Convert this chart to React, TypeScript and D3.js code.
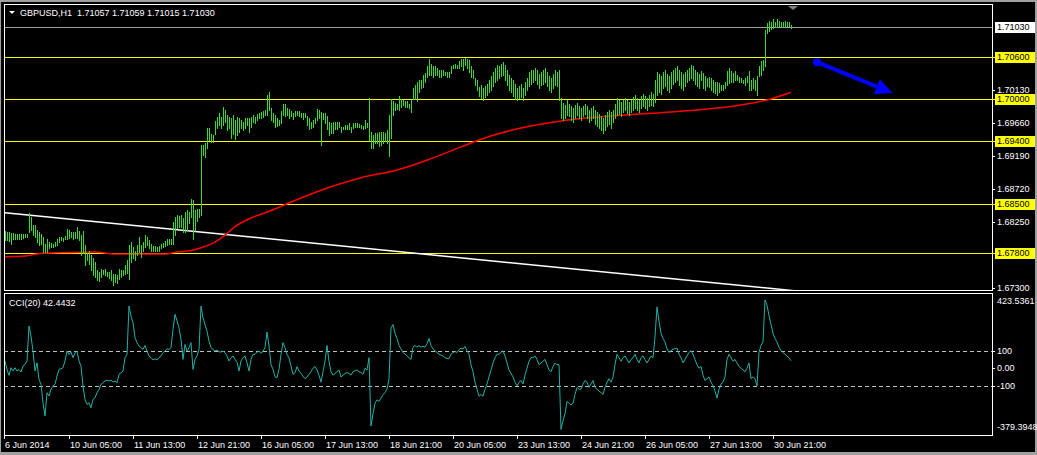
import React from 'react';
import * as d3 from 'd3';

const W = 1037;
const H = 455;

// ---------- data ----------
const barHigh = [
  1.6812,1.6810,1.6811,1.6809,1.6809,1.6808,1.6808,1.6807,1.6807,1.6808,
  1.6808,1.6807,1.6837,1.6832,1.6820,1.6820,1.6813,1.6811,1.6808,1.6803,
  1.6794,1.6801,1.6796,1.6795,1.6794,1.6796,1.6801,1.6803,1.6803,1.6802,
  1.6805,1.6815,1.6813,1.6811,1.6810,1.6811,1.6817,1.6812,1.6806,1.6812,
  1.6792,1.6780,1.6784,1.6777,1.6773,1.6768,1.6756,1.6754,1.6757,1.6756,
  1.6758,1.6754,1.6753,1.6756,1.6751,1.6751,1.6749,1.6757,1.6756,1.6756,
  1.6763,1.6770,1.6792,1.6796,1.6789,1.6784,1.6792,1.6804,1.6792,1.6796,
  1.6806,1.6804,1.6799,1.6794,1.6790,1.6790,1.6789,1.6790,1.6794,1.6795,
  1.6797,1.6800,1.6800,1.6801,1.6825,1.6832,1.6835,1.6833,1.6835,1.6830,
  1.6839,1.6842,1.6839,1.6858,1.6856,1.6842,1.6844,1.6844,1.6935,1.6935,
  1.6937,1.6959,1.6959,1.6951,1.6949,1.6969,1.6975,1.6980,1.6975,1.6989,
  1.6985,1.6978,1.6975,1.6973,1.6978,1.6970,1.6975,1.6973,1.6970,1.6968,
  1.6973,1.6973,1.6973,1.6975,1.6978,1.6975,1.6979,1.6980,1.6982,1.6983,
  1.6985,1.7006,1.7011,1.6988,1.6980,1.6978,1.6973,1.6971,1.6983,1.6994,
  1.6994,1.6988,1.6986,1.6983,1.6981,1.6983,1.6983,1.6983,1.6981,1.6980,
  1.6981,1.6976,1.6973,1.6968,1.6971,1.6973,1.6986,1.6985,1.6982,1.6981,
  1.6980,1.6976,1.6968,1.6966,1.6968,1.6968,1.6967,1.6968,1.6961,1.6961,
  1.6964,1.6964,1.6966,1.6961,1.6966,1.6966,1.6966,1.6965,1.6964,1.6962,
  1.6971,1.6966,1.7002,1.6953,1.6949,1.6952,1.6952,1.6954,1.6954,1.6953,
  1.6952,1.6956,1.6978,1.7000,1.6997,1.6995,1.6994,1.7004,1.7001,1.6999,
  1.6997,1.6997,1.6994,1.6999,1.7016,1.7020,1.7025,1.7027,1.7027,1.7035,
  1.7037,1.7047,1.7058,1.7051,1.7047,1.7047,1.7044,1.7042,1.7042,1.7042,
  1.7039,1.7039,1.7039,1.7047,1.7049,1.7050,1.7049,1.7054,1.7057,1.7057,
  1.7059,1.7057,1.7056,1.7047,1.7042,1.7030,1.7027,1.7018,1.7020,1.7016,
  1.7019,1.7022,1.7028,1.7033,1.7039,1.7045,1.7049,1.7048,1.7050,1.7053,
  1.7049,1.7042,1.7035,1.7030,1.7028,1.7022,1.7016,1.7019,1.7022,1.7016,
  1.7025,1.7030,1.7039,1.7042,1.7042,1.7045,1.7042,1.7036,1.7039,1.7042,
  1.7045,1.7039,1.7033,1.7030,1.7036,1.7042,1.7039,1.7042,1.7002,1.6995,
  1.6992,1.6999,1.6993,1.6990,1.6988,1.6992,1.6995,1.6990,1.6988,1.6990,
  1.6993,1.6990,1.6985,1.6988,1.6990,1.6985,1.6982,1.6979,1.6976,1.6973,
  1.6978,1.6982,1.6985,1.6982,1.6985,1.6993,1.7002,1.6999,1.6996,1.6999,
  1.7002,1.6999,1.6996,1.6999,1.7003,1.7006,1.7002,1.6999,1.7005,1.7008,
  1.7005,1.7002,1.7006,1.7010,1.7008,1.7028,1.7039,1.7036,1.7033,1.7039,
  1.7042,1.7036,1.7033,1.7039,1.7042,1.7045,1.7048,1.7042,1.7039,1.7036,
  1.7039,1.7042,1.7045,1.7049,1.7048,1.7042,1.7039,1.7036,1.7040,1.7037,
  1.7033,1.7030,1.7032,1.7030,1.7028,1.7025,1.7025,1.7023,1.7021,1.7021,
  1.7025,1.7040,1.7044,1.7040,1.7037,1.7040,1.7035,1.7032,1.7030,1.7028,
  1.7030,1.7033,1.7040,1.7028,1.7030,1.7028,1.7033,1.7047,1.7054,1.7056,
  1.7099,1.7109,1.7112,1.7111,1.7114,1.7111,1.7114,1.7112,1.7111,1.7110,
  1.7112,1.7111,1.7111,1.7106,
];

const barLow = [
  1.6799,1.6799,1.6797,1.6793,1.6801,1.6801,1.6801,1.6801,1.6800,1.6802,
  1.6803,1.6804,1.6811,1.6813,1.6806,1.6803,1.6796,1.6792,1.6794,1.6782,
  1.6782,1.6782,1.6787,1.6789,1.6789,1.6791,1.6792,1.6796,1.6799,1.6798,
  1.6800,1.6801,1.6802,1.6803,1.6801,1.6802,1.6802,1.6799,1.6778,1.6780,
  1.6763,1.6770,1.6765,1.6756,1.6749,1.6746,1.6742,1.6740,1.6746,1.6750,
  1.6749,1.6748,1.6745,1.6742,1.6735,1.6739,1.6738,1.6743,1.6746,1.6749,
  1.6751,1.6752,1.6744,1.6768,1.6773,1.6770,1.6777,1.6782,1.6775,1.6784,
  1.6789,1.6792,1.6787,1.6784,1.6783,1.6783,1.6784,1.6784,1.6787,1.6789,
  1.6790,1.6792,1.6793,1.6794,1.6794,1.6806,1.6816,1.6818,1.6818,1.6811,
  1.6811,1.6813,1.6823,1.6832,1.6800,1.6813,1.6826,1.6832,1.6835,1.6920,
  1.6918,1.6930,1.6942,1.6939,1.6939,1.6951,1.6959,1.6963,1.6959,1.6963,
  1.6968,1.6956,1.6959,1.6945,1.6951,1.6944,1.6949,1.6954,1.6959,1.6956,
  1.6959,1.6963,1.6954,1.6961,1.6968,1.6966,1.6970,1.6973,1.6973,1.6975,
  1.6977,1.6978,1.6985,1.6970,1.6968,1.6961,1.6962,1.6964,1.6966,1.6978,
  1.6976,1.6978,1.6973,1.6976,1.6972,1.6976,1.6977,1.6976,1.6975,1.6972,
  1.6975,1.6964,1.6957,1.6959,1.6961,1.6966,1.6971,1.6973,1.6935,1.6972,
  1.6966,1.6957,1.6949,1.6952,1.6952,1.6957,1.6958,1.6961,1.6953,1.6957,
  1.6957,1.6958,1.6957,1.6954,1.6959,1.6961,1.6961,1.6960,1.6959,1.6957,
  1.6959,1.6961,1.6942,1.6930,1.6930,1.6938,1.6938,1.6933,1.6935,1.6938,
  1.6941,1.6938,1.6919,1.6945,1.6978,1.6985,1.6986,1.6985,1.6989,1.6992,
  1.6989,1.6989,1.6987,1.6982,1.7001,1.7001,1.6997,1.7011,1.7016,1.7018,
  1.7025,1.7032,1.7035,1.7035,1.7032,1.7035,1.7035,1.7032,1.7032,1.7035,
  1.7035,1.7032,1.7032,1.7037,1.7044,1.7044,1.7044,1.7044,1.7047,1.7042,
  1.7049,1.7044,1.7039,1.7032,1.7030,1.7020,1.7013,1.7004,1.7002,1.6999,
  1.7003,1.7006,1.7010,1.7013,1.7019,1.7025,1.7028,1.7030,1.7033,1.7035,
  1.7028,1.7020,1.7013,1.7010,1.7005,1.7000,1.6999,1.7002,1.7003,1.6999,
  1.7006,1.7013,1.7019,1.7022,1.7025,1.7028,1.7022,1.7016,1.7020,1.7022,
  1.7025,1.7019,1.7013,1.7010,1.7016,1.7020,1.7019,1.6999,1.6973,1.6970,
  1.6973,1.6978,1.6976,1.6970,1.6968,1.6973,1.6978,1.6973,1.6970,1.6976,
  1.6979,1.6973,1.6968,1.6970,1.6973,1.6965,1.6962,1.6959,1.6956,1.6952,
  1.6956,1.6962,1.6965,1.6959,1.6968,1.6973,1.6978,1.6979,1.6976,1.6982,
  1.6985,1.6980,1.6978,1.6982,1.6985,1.6988,1.6985,1.6982,1.6988,1.6990,
  1.6988,1.6985,1.6990,1.6992,1.6990,1.6996,1.7006,1.7010,1.7008,1.7016,
  1.7019,1.7013,1.7010,1.7016,1.7022,1.7025,1.7028,1.7020,1.7016,1.7013,
  1.7019,1.7025,1.7028,1.7030,1.7028,1.7022,1.7019,1.7016,1.7028,1.7016,
  1.7013,1.7019,1.7017,1.7013,1.7011,1.7009,1.7006,1.7011,1.7013,1.7013,
  1.7016,1.7021,1.7023,1.7025,1.7025,1.7028,1.7028,1.7025,1.7024,1.7023,
  1.7021,1.7024,1.7013,1.7013,1.7016,1.7013,1.7006,1.7033,1.7035,1.7042,
  1.7047,1.7094,1.7098,1.7100,1.7102,1.7104,1.7104,1.7103,1.7103,1.7104,
  1.7105,1.7104,1.7105,1.7102,
];

const cciValues = [
  41,-7,-41,3,-16,3,-16,-7,-22,12,
  22,41,241,184,98,-16,31,-64,-92,-197,
  -273,-140,-159,-121,-102,-92,-45,-7,-3,3,
  41,98,79,92,60,89,98,41,12,-102,
  -178,-207,-197,-226,-178,-169,-140,-121,-92,-83,
  -73,-68,-73,-68,-79,-73,-83,-35,-26,-16,
  60,79,355,298,260,174,146,127,117,108,
  130,98,70,60,47,54,47,60,70,89,
  98,111,108,117,222,308,270,231,165,50,
  136,98,117,146,-7,50,70,108,355,288,
  250,212,155,117,108,98,104,94,92,98,
  89,70,41,60,70,50,35,-16,41,60,
  70,31,-16,50,79,79,92,98,85,98,
  117,207,127,22,-7,-49,-54,-7,79,146,
  117,79,60,12,-35,-26,9,-16,-30,-45,
  -60,-50,-35,-20,0,10,-10,-40,-80,-20,
  40,130,40,-20,-40,-30,-20,-10,-50,-40,
  -30,-25,-30,-40,-20,-15,-10,-20,-25,-35,
  0,-10,60,-330,-260,-200,-180,-190,-170,-150,
  -140,-120,-60,230,250,200,170,130,110,90,
  80,70,60,50,120,130,120,130,120,125,
  120,140,170,130,110,100,90,80,75,70,
  60,55,55,80,90,95,90,105,115,110,
  125,100,80,20,-20,-80,-120,-160,-150,-160,
  -120,-90,-50,-10,30,60,80,80,90,100,
  70,30,-10,-30,-50,-80,-100,-80,-70,-90,
  -40,0,40,60,60,70,50,20,30,40,
  50,20,-10,-20,10,30,20,20,-350,-300,
  -260,-190,-200,-210,-200,-150,-110,-120,-120,-90,
  -70,-80,-110,-90,-70,-110,-120,-130,-140,-150,
  -110,-80,-60,-80,-50,20,80,60,40,60,
  70,50,30,50,60,80,50,30,60,70,
  50,30,50,70,60,180,350,270,200,170,
  150,110,90,100,110,110,115,80,60,30,
  50,70,90,100,80,50,20,0,10,-40,
  -70,-60,-50,-80,-100,-130,-170,-120,-90,-80,
  -50,50,80,60,40,50,30,10,0,-10,
  -20,0,30,-60,-50,-60,-100,90,130,150,
  390,360,300,250,200,170,150,120,100,90,
  80,70,60,42.4432,
];

// moving average (red) read at bar indices
const maIndex = [0,10,16,29,45,55,65,80,86,93,98,105,110,115,121,132,148,163,178,196,211,228,238,258,278,298,323,351,368,381,393];
const maValue = [1.6775,1.6776,1.6779,1.6781,1.6782,1.6779,1.6779,1.6779,1.6782,1.6784,1.6788,1.6796,1.6806,1.6818,1.6828,1.6840,1.6859,1.6875,1.6888,1.6899,1.6913,1.6932,1.6943,1.6959,1.6969,1.6975,1.6980,1.6986,1.6992,1.6999,1.7010];

// white trend line anchors (bar index, price)
const trendIndex = [0, 393];
const trendPrice = [1.6838, 1.6727];

// blue arrow anchors (bar index, price)
const arrowIndex = [406, 443.8];
const arrowPrice = [1.7053, 1.7009];

const levelPrices = [1.706, 1.700, 1.694, 1.685, 1.678];
const bidPrice = 1.7103;
const priceTickValues = [1.7013, 1.6966, 1.6919, 1.6872, 1.6825, 1.6730];

const cciTickValues = [100, 0, -100];
const cciTickLabels = ['100', '0.00', '-100'];
const cciMax = 423.5361;
const cciMin = -379.3948;

const timeLabels = [
  '6 Jun 2014','10 Jun 05:00','11 Jun 13:00','12 Jun 21:00','16 Jun 05:00',
  '17 Jun 13:00','18 Jun 21:00','20 Jun 05:00','23 Jun 13:00','24 Jun 21:00',
  '26 Jun 05:00','27 Jun 13:00','30 Jun 21:00',
];
const timeLabelIndex = [0,32,64,96,128,160,192,224,256,288,320,352,384];

const titleText = 'GBPUSD,H1  1.71057 1.71059 1.71015 1.71030';
const cciTitle = 'CCI(20) 42.4432';

// ---------- layout ----------
const PL = 4, PR = 992;
const MT = 5, MB = 290;
const CT = 293, CB = 435;
const FONT = '"Liberation Sans", Arial, sans-serif';
const FS = 9;

export default function App() {
  const x = d3.scaleLinear().domain([0, 393]).range([5, 791]);
  const y = d3.scaleLinear().domain([1.67276, 1.71347]).range([MB, MT]);
  const yc = d3.scaleLinear().domain([cciMin, cciMax]).range([434.6, 294.1]);

  const maLine = d3.line<number>().x((_, i) => x(maIndex[i])).y((d) => y(d)).curve(d3.curveMonotoneX);
  const cciLine = d3.line<number>().x((_, i) => x(i)).y((d) => yc(d));

  const tSlope = (trendPrice[1] - trendPrice[0]) / (trendIndex[1] - trendIndex[0]);
  const tEndIdx = x.invert(PR);
  const tx1 = x(trendIndex[0]);
  const ty1 = y(trendPrice[0]);
  const tx2 = x(tEndIdx);
  const ty2 = y(trendPrice[0] + tSlope * (tEndIdx - trendIndex[0]));

  const ax1 = x(arrowIndex[0]), ay1 = y(arrowPrice[0]);
  const ax2 = x(arrowIndex[1]), ay2 = y(arrowPrice[1]);
  const ang = Math.atan2(ay2 - ay1, ax2 - ax1);
  const headLen = 17, headHalf = 8;
  const bx = ax2 - headLen * Math.cos(ang), by = ay2 - headLen * Math.sin(ang);
  const nx = -Math.sin(ang), ny = Math.cos(ang);
  const head = `${ax2},${ay2} ${bx + nx * headHalf},${by + ny * headHalf} ${bx - nx * headHalf},${by - ny * headHalf}`;

  const markerX = x(393) + 2;

  return (
    <svg width={W} height={H} style={{ position: 'absolute', left: 0, top: 0, display: 'block' }} fontFamily={FONT}>
      <defs>
        <clipPath id="mainClip"><rect x={PL} y={MT} width={PR - PL} height={MB - MT} /></clipPath>
        <clipPath id="cciClip"><rect x={PL} y={CT} width={PR - PL} height={CB - CT} /></clipPath>
      </defs>
      <rect x={0} y={0} width={W} height={H} fill="#a0a0a0" />
      <rect x={1} y={2} width={1034} height={450} fill="#000" />

      {/* main panel */}
      <g clipPath="url(#mainClip)">
        {levelPrices.map((p) => (
          <line key={p} x1={PL} x2={PR} y1={Math.round(y(p)) + 0.5} y2={Math.round(y(p)) + 0.5} stroke="#ffff00" strokeWidth={1} />
        ))}
        <line x1={PL} x2={PR} y1={Math.round(y(bidPrice)) + 0.5} y2={Math.round(y(bidPrice)) + 0.5} stroke="#a0a0a0" strokeWidth={1} />
        <line x1={tx1} y1={ty1} x2={tx2} y2={ty2} stroke="#ffffff" strokeWidth={1.5} />
        <path d={maLine(maValue) || ''} fill="none" stroke="#ff0000" strokeWidth={1.5} />
        {barHigh.map((h, i) => (
          <line key={i} x1={Math.round(x(i)) + 0.5} x2={Math.round(x(i)) + 0.5}
            y1={Math.round(y(h))} y2={Math.round(y(barLow[i])) + 1}
            stroke="#3cd832" strokeWidth={1} shapeRendering="crispEdges" />
        ))}
        <line x1={ax1} y1={ay1} x2={bx} y2={by} stroke="#0000ff" strokeWidth={4} />
        <circle cx={ax1} cy={ay1} r={4} fill="#0000ff" />
        <polygon points={head} fill="#0000ff" />
      </g>
      <polygon points={`${markerX - 5},${MT + 1} ${markerX + 5},${MT + 1} ${markerX},${MT + 5}`} fill="#808080" />
      <rect x={PL + 0.5} y={MT - 0.5} width={PR - PL} height={MB - MT + 1} fill="none" stroke="#ffffff" strokeWidth={1} />

      {/* title */}
      <polygon points="9,11 15,11 12,14" fill="#ffffff" />
      <text x={20} y={12.5} dy="0.35em" fill="#ffffff" fontSize={FS} style={{ whiteSpace: 'pre' }}>{titleText}</text>

      {/* price axis */}
      {priceTickValues.map((p) => (
        <g key={p}>
          <line x1={PR} x2={PR + 3} y1={Math.round(y(p)) + 0.5} y2={Math.round(y(p)) + 0.5} stroke="#fff" />
          <text x={997} y={y(p)} dy="0.35em" fill="#ffffff" fontSize={FS}>{p.toFixed(5)}</text>
        </g>
      ))}
      {levelPrices.map((p) => (
        <g key={'l' + p}>
          <line x1={PR} x2={PR + 3} y1={Math.round(y(p)) + 0.5} y2={Math.round(y(p)) + 0.5} stroke="#ffff00" />
          <rect x={995} y={Math.round(y(p)) - 5} width={40} height={11} fill="#ffff00" />
          <text x={997} y={y(p)} dy="0.35em" fill="#000000" fontSize={FS}>{p.toFixed(5)}</text>
        </g>
      ))}
      <rect x={995} y={Math.round(y(bidPrice)) - 5} width={40} height={11} fill="#ffffff" />
      <text x={997} y={y(bidPrice)} dy="0.35em" fill="#000000" fontSize={FS}>{bidPrice.toFixed(5)}</text>

      {/* CCI panel */}
      <g clipPath="url(#cciClip)">
        {cciTickValues.filter((v) => v !== 0).map((v) => (
          <line key={v} x1={PL} x2={PR} y1={Math.round(yc(v)) + 0.5} y2={Math.round(yc(v)) + 0.5} stroke="#c0c0c0" strokeDasharray="4,3" />
        ))}
        <path d={cciLine(cciValues) || ''} fill="none" stroke="#20b2aa" strokeWidth={1} />
      </g>
      <rect x={PL + 0.5} y={CT + 0.5} width={PR - PL} height={CB - CT} fill="none" stroke="#ffffff" strokeWidth={1} />
      <text x={9} y={302.5} dy="0.35em" fill="#ffffff" fontSize={FS}>{cciTitle}</text>
      {cciTickValues.map((v, i) => (
        <g key={'c' + v}>
          <line x1={PR} x2={PR + 3} y1={Math.round(yc(v)) + 0.5} y2={Math.round(yc(v)) + 0.5} stroke="#fff" />
          <text x={997} y={yc(v)} dy="0.35em" fill="#ffffff" fontSize={FS}>{cciTickLabels[i]}</text>
        </g>
      ))}
      <text x={997} y={300.5} dy="0.35em" fill="#ffffff" fontSize={FS}>{cciMax.toFixed(4)}</text>
      <text x={997} y={427} dy="0.35em" fill="#ffffff" fontSize={FS}>{cciMin.toFixed(4)}</text>

      {/* time axis */}
      {timeLabels.map((t, i) => {
        const tx = i === 0 ? PL : Math.round(x(timeLabelIndex[i]));
        return (
          <g key={t}>
            <line x1={tx + 0.5} x2={tx + 0.5} y1={CB} y2={CB + 4} stroke="#fff" />
            <text x={tx + 1} y={445} dy="0.35em" fill="#ffffff" fontSize={FS}>{t}</text>
          </g>
        );
      })}
    </svg>
  );
}
